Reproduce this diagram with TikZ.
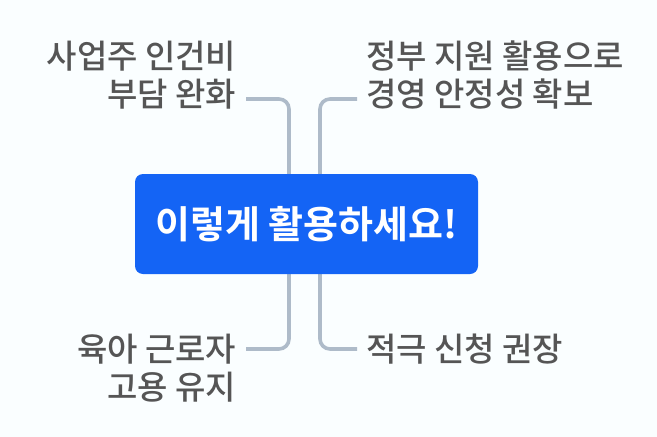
\documentclass[tikz,border=0pt]{standalone}
\usepackage{fontspec}
\setmainfont{Noto Sans CJK KR Medium}[BoldFont={Noto Sans CJK KR Bold}]
\definecolor{bgcol}{HTML}{FAFEFF}
\definecolor{hubcol}{HTML}{1464F5}
\definecolor{linecol}{HTML}{AEBBC9}
\definecolor{txtcol}{HTML}{555555}
\tikzset{%
  hub/.style={
    fill=hubcol,
    rounded corners=8pt,
    text=white,
    font=\bfseries\fontsize{38pt}{44pt}\selectfont,
    minimum width=343pt,
    minimum height=100pt
  },
  leaf/.style={
    text=txtcol,
    font=\fontsize{33pt}{38pt}\selectfont,
    inner sep=0pt
  },
  link/.style={
    draw=linecol,
    line width=3.6pt,
    rounded corners=10pt
  },
}
\begin{document}
\begin{tikzpicture}[x=1pt,y=-1pt]
        \fill[bgcol] (0,0) rectangle (657,437);
        \useasboundingbox (0,0) rectangle (657,437);

        \coordinate (tl) at (246,99);
        \coordinate (tr) at (357,99);
        \coordinate (bl) at (246,349);
        \coordinate (br) at (357,349);
        \coordinate (hl) at (289,224);
        \coordinate (hr) at (320,224);

        \node[leaf,anchor=east,align=right] (a) at (236.5,75.5) {사업주 인건비\\부담 완화};
        \node[leaf,anchor=west,align=left] (b) at (366,75.5) {정부 지원 활용으로\\경영 안정성 확보};
        \node[leaf,anchor=east,align=right] (c) at (236.5,368.5) {육아 근로자\\고용 유지};
        \node[leaf,anchor=west,align=left] (d) at (366,349.5) {적극 신청 권장};

        \draw[link] (tl) -| (hl);
        \draw[link] (tr) -| (hr);
        \draw[link] (bl) -| (hl);
        \draw[link] (br) -| (hr);

        \node[hub] (h) at (306.5,224) {이렇게 활용하세요!};
    \end{tikzpicture}
\end{document}
